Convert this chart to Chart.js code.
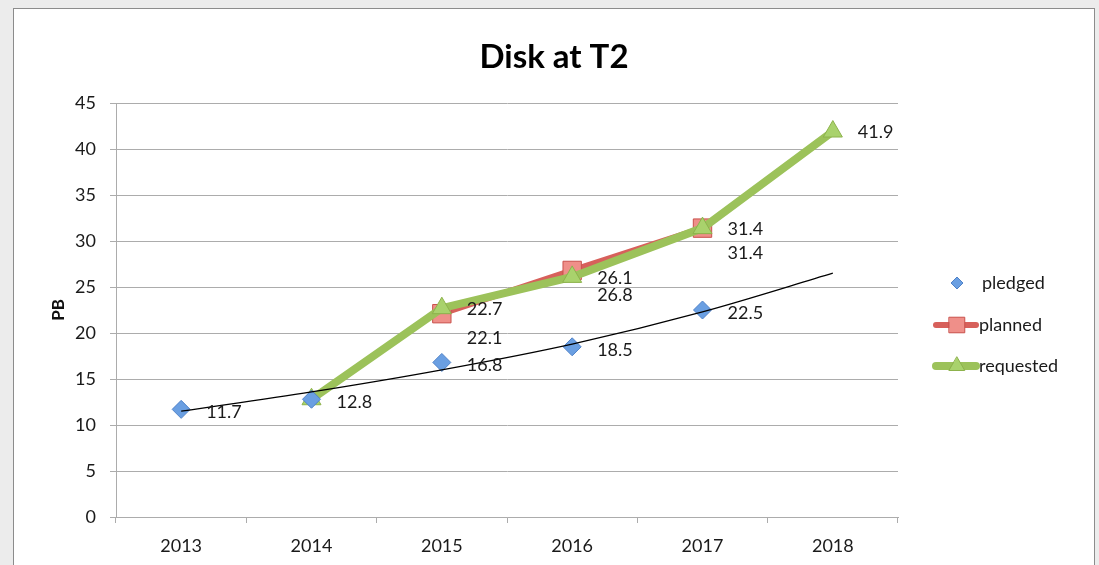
<!DOCTYPE html>
<html lang="en">
<head>
<meta charset="utf-8">
<title>Disk at T2</title>
<script src="https://cdn.jsdelivr.net/npm/chart.js"></script>
<style>
  html, body { margin: 0; padding: 0; background: #ececec; overflow: hidden; }
  .frame { position: absolute; left: 13px; top: 8px; width: 1080px; height: 570px; background: #fff; border: 1px solid #8c8c8c; }
  canvas { position: absolute; left: 0; top: 0; }
</style>
</head>
<body>
<div class="frame"></div>
<canvas id="diskChart" width="1099" height="565"></canvas>
<script>
const years = ['2013', '2014', '2015', '2016', '2017', '2018'];
const pledged = [11.7, 12.8, 16.8, 18.5, 22.5, null];
const planned = [null, null, 22.1, 26.8, 31.4, null];
const requested = [null, 12.8, 22.7, 26.1, 31.4, 41.9];
// trend curve through pledged
const pledgedTrend = [11.5, 13.6, 16.0, 18.8, 22.3, 26.5];

const FONT = 'Lato, "Open Sans", sans-serif';

// value labels right of each point (skip a label sitting on top of an identical one)
const valueLabels = {
  id: 'valueLabels',
  afterDatasetsDraw(chart) {
    const ctx = chart.ctx;
    ctx.save();
    ctx.font = '18px ' + FONT;
    ctx.fillStyle = '#1a1a1a';
    ctx.textBaseline = 'middle';
    const drawn = [];
    chart.data.datasets.forEach((ds, i) => {
      if (ds.labelDy === undefined) return;
      chart.getDatasetMeta(i).data.forEach((pt, j) => {
        const v = ds.data[j];
        if (v == null) return;
        const text = v.toFixed(1);
        const x = pt.x + 25, y = pt.y + ds.labelDy;
        if (drawn.some(d => d.text === text && Math.abs(d.x - x) < 4 && Math.abs(d.y - y) < 6)) return;
        drawn.push({ text, x, y });
        ctx.fillText(text, x, y);
      });
    });
    ctx.restore();
  }
};

// title + legend on the right, drawn like the spreadsheet chart
const decorations = {
  id: 'decorations',
  afterDraw(chart) {
    const ctx = chart.ctx;
    const area = chart.chartArea;
    ctx.save();
    ctx.font = 'bold 33px ' + FONT;
    ctx.fillStyle = '#000';
    ctx.textAlign = 'center';
    ctx.textBaseline = 'middle';
    ctx.fillText('Disk at T2', 554, 57);

    const x0 = area.right + 35;
    const rows = [area.top + 180, area.top + 222, area.top + 263];
    const sizes = [6, 11, 9];
    [0, 1, 2].forEach((i, k) => {
      const ds = chart.data.datasets[i];
      const y = rows[k];
      if (ds.showLine !== false) {
        ctx.strokeStyle = ds.borderColor;
        ctx.lineWidth = ds.borderWidth;
        ctx.lineCap = 'round';
        ctx.beginPath();
        ctx.moveTo(x0 + 3, y);
        ctx.lineTo(x0 + 43, y);
        ctx.stroke();
      }
      ctx.lineWidth = 1;
      ctx.fillStyle = ds.pointBackgroundColor;
      ctx.strokeStyle = ds.pointBorderColor;
      Chart.helpers.drawPoint(ctx, { pointStyle: ds.pointStyle, radius: sizes[k], rotation: 0, borderWidth: 1 }, x0 + 24, y);
      ctx.fillStyle = '#1a1a1a';
      ctx.textAlign = 'left';
      ctx.font = '18px ' + FONT;
      ctx.fillText(ds.label, ds.showLine === false ? x0 + 49 : x0 + 46, y);
    });
    ctx.restore();
  }
};

new Chart(document.getElementById('diskChart'), {
  type: 'line',
  data: {
    labels: years,
    datasets: [
      {
        label: 'pledged',
        data: pledged,
        showLine: false,
        pointStyle: 'rectRot',
        pointRadius: 9,
        pointBackgroundColor: '#6a9fe2',
        pointBorderColor: '#4f82c8',
        pointBorderWidth: 1,
        borderColor: '#4f82c8',
        labelDy: 3,
        order: 1
      },
      {
        label: 'planned',
        data: planned,
        borderColor: '#d7605b',
        borderWidth: 6,
        pointStyle: 'rect',
        pointRadius: 13,
        pointBackgroundColor: '#ef8f89',
        pointBorderColor: '#c9514c',
        pointBorderWidth: 1,
        labelDy: 25,
        order: 3
      },
      {
        label: 'requested',
        data: requested,
        borderColor: '#9cc25a',
        borderWidth: 8,
        pointStyle: 'triangle',
        pointRadius: 11,
        pointBackgroundColor: '#a9d26c',
        pointBorderColor: '#8db24c',
        pointBorderWidth: 1,
        labelDy: 1,
        order: 2
      },
      {
        label: 'trend',
        data: pledgedTrend,
        borderColor: '#000',
        borderWidth: 1.2,
        pointRadius: 0,
        cubicInterpolationMode: 'monotone',
        order: 0
      }
    ]
  },
  options: {
    responsive: false,
    animation: false,
    devicePixelRatio: 1,
    layout: { padding: { left: 0, right: 201, top: 103, bottom: 0 } },
    plugins: {
      legend: { display: false },
      tooltip: { enabled: false }
    },
    scales: {
      x: {
        offset: true,
        grid: { offset: true, drawOnChartArea: false, tickLength: 6, color: '#acacac' },
        border: { color: '#acacac' },
        ticks: { padding: 12, color: '#1a1a1a', font: { family: FONT, size: 18 } },
        afterFit(scale) { scale.height = 48; }
      },
      y: {
        min: 0,
        max: 45,
        ticks: { stepSize: 5, padding: 14, color: '#1a1a1a', font: { family: FONT, size: 18 } },
        grid: { color: '#acacac', tickLength: 6 },
        border: { color: '#acacac' },
        title: {
          display: true,
          text: 'PB',
          color: '#111',
          font: { family: FONT, size: 17, weight: 'bold' },
          padding: { top: 48, bottom: 0 }
        },
        afterFit(scale) { scale.width = 116; }
      }
    }
  },
  plugins: [valueLabels, decorations]
});
</script>
</body>
</html>
